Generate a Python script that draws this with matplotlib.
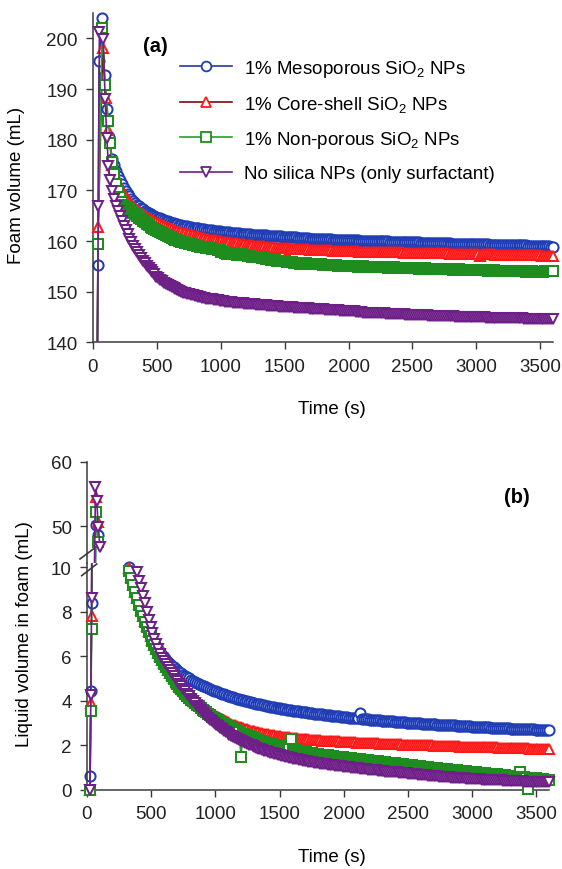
import numpy as np
import matplotlib
matplotlib.use('Agg')
import matplotlib.pyplot as plt
from matplotlib.lines import Line2D

plt.rcParams['font.family'] = ['Liberation Sans', 'DejaVu Sans']
plt.rcParams['mathtext.fontset'] = 'custom'
plt.rcParams['mathtext.rm'] = 'Liberation Sans'
plt.rcParams['mathtext.it'] = 'Liberation Sans:italic'
plt.rcParams['mathtext.default'] = 'regular'

# ---------------- data ----------------
series_labels = ['1% Mesoporous SiO$_2$ NPs', '1% Core-shell SiO$_2$ NPs',
                 '1% Non-porous SiO$_2$ NPs', 'No silica NPs (only surfactant)']

# Panel (a): foam volume (mL); early points (explicit times) + tail sampled every 15 s from 150 s
a_tail_start, a_tail_step = 150, 15

meso_a_early_t = [0, 38, 48, 70, 90, 108, 128]
meso_a_early_v = [0, 155.2, 195.5, 204.1, 192.7, 186.1, 180.5]
meso_a_tail = [
    176.2, 175.0, 173.8, 172.8, 172.0, 171.2, 170.5, 169.9, 169.3, 168.8, 168.3, 167.9, 167.6, 167.2, 166.9, 166.6, 166.3, 166.0, 165.8, 165.6,
    165.4, 165.2, 165.0, 164.8, 164.6, 164.5, 164.3, 164.1, 164.0, 163.9, 163.7, 163.6, 163.5, 163.4, 163.3, 163.2, 163.1, 163.0, 162.9, 162.9,
    162.8, 162.7, 162.6, 162.6, 162.5, 162.5, 162.4, 162.3, 162.3, 162.2, 162.2, 162.1, 162.1, 162.0, 162.0, 161.9, 161.9, 161.8, 161.8, 161.7,
    161.7, 161.7, 161.6, 161.6, 161.6, 161.5, 161.5, 161.4, 161.4, 161.4, 161.4, 161.3, 161.3, 161.2, 161.2, 161.2, 161.2, 161.1, 161.1, 161.1,
    161.1, 161.0, 161.0, 161.0, 161.0, 160.9, 160.9, 160.9, 160.9, 160.8, 160.8, 160.8, 160.8, 160.7, 160.7, 160.7, 160.7, 160.6, 160.6, 160.6,
    160.6, 160.6, 160.6, 160.5, 160.5, 160.5, 160.5, 160.5, 160.5, 160.4, 160.4, 160.4, 160.4, 160.4, 160.4, 160.3, 160.3, 160.3, 160.3, 160.3,
    160.3, 160.3, 160.3, 160.2, 160.2, 160.2, 160.2, 160.2, 160.2, 160.1, 160.1, 160.1, 160.1, 160.1, 160.1, 160.1, 160.1, 160.0, 160.0, 160.0,
    160.0, 160.0, 160.0, 160.0, 160.0, 159.9, 159.9, 159.9, 159.9, 159.9, 159.9, 159.9, 159.9, 159.8, 159.8, 159.8, 159.8, 159.8, 159.8, 159.8,
    159.8, 159.7, 159.7, 159.7, 159.7, 159.7, 159.7, 159.7, 159.7, 159.6, 159.6, 159.6, 159.6, 159.6, 159.6, 159.6, 159.6, 159.5, 159.5, 159.5,
    159.5, 159.5, 159.5, 159.5, 159.5, 159.5, 159.5, 159.4, 159.4, 159.4, 159.4, 159.4, 159.4, 159.4, 159.4, 159.4, 159.4, 159.3, 159.3, 159.3,
    159.3, 159.3, 159.3, 159.3, 159.3, 159.3, 159.3, 159.2, 159.2, 159.2, 159.2, 159.2, 159.2, 159.2, 159.2, 159.2, 159.2, 159.1, 159.1, 159.1,
    159.1, 159.1, 159.1, 159.1, 159.1, 159.0, 159.0, 159.0, 159.0, 158.9, 158.9]

core_a_early_t = [0, 40, 76, 100, 120]
core_a_early_v = [0, 162.7, 198.0, 188.2, 182.0]
core_a_tail = [
    175.0, 173.7, 172.5, 171.5, 170.7, 170.0, 169.3, 168.7, 168.2, 167.7, 167.3, 166.9, 166.6, 166.2, 165.9, 165.6, 165.3, 165.0, 164.8, 164.5,
    164.3, 164.1, 163.9, 163.7, 163.5, 163.3, 163.1, 162.9, 162.8, 162.6, 162.5, 162.3, 162.2, 162.0, 161.9, 161.8, 161.7, 161.6, 161.5, 161.4,
    161.3, 161.2, 161.1, 161.0, 160.9, 160.8, 160.7, 160.6, 160.6, 160.5, 160.4, 160.3, 160.3, 160.2, 160.2, 160.1, 160.0, 160.0, 159.9, 159.9,
    159.8, 159.8, 159.7, 159.7, 159.6, 159.6, 159.5, 159.5, 159.4, 159.4, 159.3, 159.3, 159.2, 159.2, 159.1, 159.1, 159.0, 159.0, 159.0, 159.0,
    158.9, 158.9, 158.8, 158.8, 158.8, 158.7, 158.7, 158.7, 158.7, 158.6, 158.6, 158.6, 158.6, 158.5, 158.5, 158.5, 158.5, 158.4, 158.4, 158.4,
    158.4, 158.4, 158.4, 158.3, 158.3, 158.3, 158.3, 158.3, 158.3, 158.2, 158.2, 158.2, 158.2, 158.2, 158.2, 158.1, 158.1, 158.1, 158.1, 158.1,
    158.1, 158.0, 158.0, 158.0, 158.0, 158.0, 158.0, 158.0, 158.0, 157.9, 157.9, 157.9, 157.9, 157.9, 157.9, 157.9, 157.9, 157.9, 157.9, 157.8,
    157.8, 157.8, 157.8, 157.8, 157.8, 157.8, 157.8, 157.8, 157.8, 157.8, 157.8, 157.8, 157.7, 157.7, 157.7, 157.7, 157.7, 157.7, 157.7, 157.7,
    157.7, 157.7, 157.7, 157.7, 157.6, 157.6, 157.6, 157.6, 157.6, 157.6, 157.6, 157.6, 157.6, 157.6, 157.6, 157.6, 157.5, 157.5, 157.5, 157.5,
    157.5, 157.5, 157.5, 157.5, 157.5, 157.5, 157.5, 157.5, 157.4, 157.4, 157.4, 157.4, 157.0, 157.4, 157.4, 157.4, 157.4, 157.4, 157.4, 157.4,
    157.3, 157.3, 157.3, 157.3, 157.3, 157.3, 157.3, 157.3, 157.3, 157.3, 157.3, 157.3, 157.2, 157.2, 157.2, 157.2, 157.2, 157.2, 157.2, 157.2,
    157.2, 157.2, 157.2, 157.2, 157.1, 157.1, 157.1, 157.1, 157.1, 157.1, 157.1]

non_a_early_t = [0, 40, 72, 95, 121, 134]
non_a_early_v = [0, 159.4, 202.1, 190.7, 183.7, 179.4]
non_a_tail = [
    175.5, 173.2, 171.2, 169.8, 168.6, 167.8, 167.2, 166.8, 166.5, 166.2, 166.0, 165.6, 165.3, 164.9, 164.6, 164.3, 164.0, 163.7, 163.4, 163.1,
    162.8, 162.5, 162.3, 162.1, 161.9, 161.7, 161.5, 161.3, 161.1, 161.0, 160.8, 160.6, 160.5, 160.3, 160.2, 160.0, 159.9, 159.8, 159.7, 159.6,
    159.5, 159.4, 159.3, 159.2, 159.1, 159.0, 158.9, 158.9, 158.8, 158.7, 158.6, 158.6, 158.5, 158.5, 158.4, 158.3, 158.2, 157.9, 157.8, 157.6,
    157.5, 157.6, 157.6, 157.5, 157.4, 157.3, 157.3, 157.4, 157.3, 157.2, 157.2, 157.1, 157.0, 156.9, 156.8, 156.9, 156.9, 156.8, 156.7, 156.6,
    156.5, 156.5, 156.4, 156.3, 156.2, 156.2, 156.1, 156.1, 156.0, 156.0, 156.0, 155.9, 155.8, 155.8, 155.8, 155.7, 155.6, 155.6, 155.5, 155.5,
    155.6, 155.6, 155.5, 155.5, 155.4, 155.5, 155.5, 155.5, 155.4, 155.4, 155.3, 155.3, 155.2, 155.3, 155.3, 155.2, 155.2, 155.2, 155.1, 155.1,
    155.1, 155.1, 155.0, 155.0, 155.1, 155.1, 155.0, 155.0, 154.9, 154.9, 155.0, 155.0, 154.9, 154.9, 154.9, 154.9, 154.8, 154.8, 154.9, 154.9,
    154.8, 154.8, 154.8, 154.8, 154.7, 154.7, 154.8, 154.8, 154.7, 154.7, 154.7, 154.7, 154.6, 154.6, 154.7, 154.7, 154.6, 154.6, 154.6, 154.6,
    154.5, 154.5, 154.6, 154.6, 154.5, 154.5, 154.5, 154.5, 154.4, 154.4, 154.5, 154.5, 154.4, 154.4, 154.4, 154.4, 154.4, 154.4, 154.3, 154.3,
    154.4, 154.4, 154.3, 154.3, 154.3, 154.3, 154.2, 154.2, 154.3, 154.3, 154.2, 154.2, 154.2, 154.2, 154.2, 154.2, 154.1, 154.1, 154.2, 154.2,
    154.1, 154.1, 154.1, 154.1, 154.1, 154.1, 154.0, 154.0, 154.1, 154.1, 154.0, 154.0, 154.0, 154.0, 154.0, 154.0, 153.9, 153.9, 154.0, 154.0,
    153.9, 153.9, 153.8, 153.8, 153.9, 153.9, 154.0, 154.0, 154.1, 154.1, 154.1]

sur_a_early_t = [0, 42, 50, 80, 95, 108, 121, 135]
sur_a_early_v = [0, 166.9, 201.2, 199.8, 188.0, 180.4, 174.8, 172.0]
sur_a_tail = [
    169.8, 168.3, 167.0, 166.0, 165.0, 164.0, 163.0, 162.1, 161.3, 160.5, 159.8, 159.1, 158.4, 157.8, 157.2, 156.6, 156.1, 155.6, 155.1, 154.6,
    154.2, 153.8, 153.4, 153.0, 152.7, 152.4, 152.1, 151.8, 151.6, 151.3, 151.1, 150.9, 150.7, 150.5, 150.3, 150.1, 150.0, 149.8, 149.7, 149.6,
    149.5, 149.4, 149.3, 149.2, 149.1, 149.0, 148.9, 148.8, 148.7, 148.6, 148.6, 148.5, 148.5, 148.4, 148.3, 148.3, 148.2, 148.1, 148.1, 148.0,
    148.0, 147.9, 147.9, 147.8, 147.8, 147.7, 147.7, 147.7, 147.7, 147.6, 147.6, 147.5, 147.5, 147.5, 147.5, 147.4, 147.4, 147.3, 147.3, 147.3,
    147.3, 147.2, 147.2, 147.2, 147.2, 147.1, 147.1, 147.0, 147.0, 147.0, 147.0, 146.9, 146.9, 146.9, 146.9, 146.8, 146.8, 146.8, 146.8, 146.7,
    146.7, 146.7, 146.7, 146.6, 146.6, 146.6, 146.6, 146.5, 146.5, 146.5, 146.5, 146.4, 146.4, 146.4, 146.4, 146.3, 146.3, 146.3, 146.3, 146.2,
    146.2, 146.2, 146.2, 146.1, 146.1, 146.1, 146.1, 146.0, 146.0, 146.0, 146.0, 145.9, 145.9, 145.9, 145.9, 145.9, 145.9, 145.8, 145.8, 145.8,
    145.8, 145.8, 145.8, 145.7, 145.7, 145.7, 145.7, 145.6, 145.6, 145.6, 145.6, 145.6, 145.6, 145.5, 145.5, 145.5, 145.5, 145.5, 145.5, 145.4,
    145.4, 145.4, 145.4, 145.4, 145.4, 145.3, 145.3, 145.3, 145.3, 145.3, 145.3, 145.2, 145.2, 145.2, 145.2, 145.2, 145.2, 145.2, 145.2, 145.1,
    145.1, 145.1, 145.1, 145.1, 145.1, 145.1, 145.1, 145.0, 145.0, 145.0, 145.0, 145.0, 145.0, 145.0, 145.0, 144.9, 144.9, 144.9, 144.9, 144.9,
    144.9, 144.9, 144.9, 144.9, 144.9, 144.9, 144.9, 144.8, 144.8, 144.8, 144.8, 144.8, 144.8, 144.8, 144.8, 144.7, 144.7, 144.7, 144.7, 144.7,
    144.7, 144.7, 144.7, 144.7, 144.7, 144.6, 144.6, 144.6, 144.6, 144.6, 144.6]

# Panel (b): liquid volume in foam (mL); early points + decay sampled every 15 s
b_step = 15
meso_b_early_t = [23, 30, 36, 70, 85]
meso_b_early_v = [0.64, 4.43, 8.4, 50.2, 48.6]
meso_b_start = 330
meso_b_tail = [
    10.0, 9.6, 9.25, 8.95, 8.65, 8.37, 8.1, 7.85, 7.6, 7.37, 7.15, 6.96, 6.78, 6.61, 6.45, 6.31, 6.18, 6.06, 5.95, 5.85,
    5.76, 5.67, 5.58, 5.5, 5.43, 5.36, 5.29, 5.23, 5.17, 5.11, 5.06, 5.01, 4.96, 4.91, 4.86, 4.81, 4.77, 4.73, 4.69, 4.65,
    4.61, 4.57, 4.53, 4.49, 4.46, 4.43, 4.4, 4.36, 4.33, 4.3, 4.27, 4.24, 4.21, 4.18, 4.16, 4.13, 4.1, 4.08, 4.05, 4.03,
    4.0, 3.98, 3.96, 3.94, 3.92, 3.9, 3.88, 3.86, 3.84, 3.82, 3.80, 3.78, 3.76, 3.74, 3.73, 3.71, 3.70, 3.68, 3.67, 3.65,
    3.64, 3.62, 3.61, 3.59, 3.58, 3.56, 3.55, 3.54, 3.53, 3.51, 3.50, 3.49, 3.48, 3.47, 3.46, 3.44, 3.43, 3.42, 3.41, 3.40,
    3.39, 3.38, 3.37, 3.36, 3.35, 3.34, 3.33, 3.32, 3.31, 3.30, 3.29, 3.28, 3.27, 3.26, 3.25, 3.24, 3.23, 3.22, 3.22, 3.21,
    3.45, 3.20, 3.18, 3.18, 3.17, 3.16, 3.15, 3.14, 3.14, 3.13, 3.12, 3.11, 3.11, 3.10, 3.10, 3.09, 3.08, 3.08, 3.07, 3.06,
    3.06, 3.05, 3.04, 3.04, 3.03, 3.02, 3.02, 3.01, 3.01, 3.00, 3.00, 2.99, 2.98, 2.98, 2.97, 2.97, 2.96, 2.96, 2.95, 2.95,
    2.94, 2.94, 2.93, 2.93, 2.92, 2.92, 2.91, 2.91, 2.90, 2.90, 2.89, 2.89, 2.88, 2.88, 2.87, 2.87, 2.86, 2.86, 2.85, 2.85,
    2.84, 2.84, 2.83, 2.83, 2.82, 2.82, 2.81, 2.81, 2.80, 2.80, 2.79, 2.79, 2.79, 2.78, 2.78, 2.78, 2.77, 2.77, 2.76, 2.76,
    2.75, 2.75, 2.75, 2.74, 2.74, 2.74, 2.73, 2.73, 2.72, 2.72, 2.72, 2.71, 2.71, 2.71, 2.70, 2.70, 2.70, 2.70, 2.69]

core_b_early_t = [23, 30, 36, 68, 82]
core_b_early_v = [0.0, 3.9, 7.8, 54.5, 50.6]
core_b_start = 330
core_b_tail = [
    9.95, 9.57, 9.22, 8.91, 8.62, 8.34, 8.07, 7.81, 7.57, 7.34, 7.12, 6.91, 6.72, 6.53, 6.34, 6.17, 6.0, 5.84, 5.69, 5.54,
    5.4, 5.27, 5.14, 5.02, 4.9, 4.79, 4.68, 4.58, 4.48, 4.39, 4.3, 4.21, 4.13, 4.05, 3.97, 3.9, 3.83, 3.76, 3.7, 3.64,
    3.58, 3.52, 3.46, 3.41, 3.36, 3.31, 3.26, 3.21, 3.17, 3.13, 3.09, 3.05, 3.01, 2.97, 2.94, 2.9, 2.87, 2.84, 2.81, 2.78,
    2.75, 2.72, 2.70, 2.67, 2.65, 2.63, 2.61, 2.59, 2.57, 2.55, 2.53, 2.51, 2.50, 2.48, 2.47, 2.45, 2.44, 2.42, 2.41, 2.40,
    2.39, 2.38, 2.37, 2.36, 2.35, 2.34, 2.33, 2.32, 2.31, 2.30, 2.29, 2.29, 2.28, 2.27, 2.26, 2.26, 2.25, 2.24, 2.23, 2.23,
    2.22, 2.22, 2.21, 2.21, 2.20, 2.20, 2.19, 2.19, 2.18, 2.18, 2.17, 2.17, 2.16, 2.16, 2.15, 2.15, 2.14, 2.14, 2.13, 2.13,
    2.12, 2.12, 2.11, 2.11, 2.10, 2.10, 2.10, 2.10, 2.09, 2.09, 2.08, 2.08, 2.07, 2.07, 2.07, 2.07, 2.06, 2.06, 2.05, 2.05,
    2.05, 2.05, 2.04, 2.04, 2.03, 2.03, 2.03, 2.03, 2.02, 2.02, 2.02, 2.02, 2.01, 2.01, 2.00, 2.00, 2.00, 2.00, 1.99, 1.99,
    1.99, 1.99, 1.98, 1.98, 1.97, 1.97, 1.97, 1.97, 1.96, 1.96, 1.96, 1.96, 1.95, 1.95, 1.95, 1.95, 1.94, 1.94, 1.94, 1.94,
    1.93, 1.93, 1.93, 1.93, 1.92, 1.92, 1.92, 1.92, 1.91, 1.91, 1.91, 1.91, 1.90, 1.90, 1.90, 1.90, 1.89, 1.89, 1.89, 1.89,
    1.88, 1.88, 1.88, 1.88, 1.87, 1.87, 1.87, 1.87, 1.86, 1.86, 1.86, 1.86, 1.85, 1.85, 1.85, 1.85, 1.84, 1.84, 1.84]

non_b_early_t = [23, 30, 36, 72, 88]
non_b_early_v = [0.0, 3.55, 7.24, 52.2, 47.5]
non_b_start = 330
non_b_tail = [
    9.85, 9.52, 9.2, 8.9, 8.6, 8.32, 8.05, 7.8, 7.55, 7.32, 7.1, 6.9, 6.7, 6.51, 6.32, 6.15, 5.98, 5.82, 5.66, 5.51,
    5.37, 5.23, 5.1, 4.98, 4.86, 4.75, 4.64, 4.53, 4.43, 4.33, 4.24, 4.15, 4.06, 3.98, 3.9, 3.82, 3.75, 3.68, 3.61, 3.54,
    3.48, 3.41, 3.35, 3.29, 3.23, 3.17, 3.12, 3.06, 3.01, 2.96, 2.91, 2.86, 2.82, 2.77, 2.73, 2.68, 2.64, 2.60, 1.5, 2.52,
    2.48, 2.44, 2.41, 2.37, 2.34, 2.31, 2.28, 2.25, 2.22, 2.19, 2.16, 2.13, 2.1, 2.08, 2.05, 2.03, 2.0, 1.98, 1.96, 1.93,
    1.91, 1.89, 1.87, 1.85, 2.3, 1.81, 1.79, 1.77, 1.76, 1.74, 1.73, 1.71, 1.69, 1.68, 1.66, 1.65, 1.63, 1.62, 1.61, 1.59,
    1.58, 1.57, 1.56, 1.55, 1.53, 1.52, 1.51, 1.50, 1.49, 1.48, 1.47, 1.46, 1.45, 1.44, 1.43, 1.42, 1.41, 1.40, 1.39, 1.38,
    1.37, 1.36, 1.35, 1.34, 1.33, 1.32, 1.31, 1.30, 1.29, 1.28, 1.27, 1.26, 1.25, 1.24, 1.23, 1.22, 1.21, 1.20, 1.19, 1.18,
    1.17, 1.16, 1.15, 1.14, 1.13, 1.12, 1.11, 1.10, 1.09, 1.08, 1.07, 1.06, 1.05, 1.04, 1.03, 1.02, 1.01, 1.00, 0.99, 0.98,
    0.97, 0.96, 0.95, 0.94, 0.93, 0.93, 0.92, 0.91, 0.90, 0.89, 0.88, 0.87, 0.86, 0.86, 0.85, 0.84, 0.83, 0.82, 0.81, 0.80,
    0.79, 0.78, 0.77, 0.77, 0.76, 0.75, 0.74, 0.73, 0.72, 0.71, 0.70, 0.70, 0.69, 0.68, 0.67, 0.66, 0.65, 0.64, 0.63, 0.63,
    0.62, 0.61, 0.60, 0.8, 0.58, 0.57, 0.56, 0.05, 0.55, 0.54, 0.53, 0.52, 0.51, 0.50, 0.49, 0.48, 0.47, 0.46, 0.45]

sur_b_early_t = [23, 30, 36, 66, 76, 88, 102]
sur_b_early_v = [0.0, 4.25, 8.6, 56.0, 53.9, 49.8, 46.7]
sur_b_start = 390
sur_b_tail = [
    9.78, 9.4, 9.05, 8.72, 8.38, 8.0, 7.65, 7.33, 7.05, 6.79, 6.55, 6.33, 6.12, 5.94, 5.78, 5.64, 5.5, 5.37, 5.24, 5.12,
    5.0, 4.88, 4.76, 4.65, 4.54, 4.43, 4.32, 4.21, 4.1, 4.0, 3.9, 3.79, 3.69, 3.59, 3.5, 3.41, 3.32, 3.24, 3.16, 3.08,
    3.0, 2.93, 2.86, 2.79, 2.73, 2.67, 2.61, 2.55, 2.49, 2.44, 2.39, 2.34, 2.29, 2.24, 2.2, 2.16, 2.12, 2.08, 2.04, 2.0,
    1.97, 1.93, 1.9, 1.86, 1.83, 1.79, 1.76, 1.73, 1.7, 1.67, 1.65, 1.62, 1.6, 1.58, 1.56, 1.53, 1.51, 1.49, 1.47, 1.45,
    1.43, 1.41, 1.39, 1.37, 1.35, 1.33, 1.32, 1.30, 1.29, 1.27, 1.26, 1.24, 1.23, 1.21, 1.2, 1.18, 1.17, 1.16, 1.15, 1.13,
    1.12, 1.11, 1.1, 1.09, 1.08, 1.07, 1.06, 1.05, 1.04, 1.03, 1.02, 1.01, 1.0, 0.99, 0.98, 0.97, 0.96, 0.95, 0.94, 0.93,
    0.92, 0.91, 0.9, 0.89, 0.88, 0.87, 0.86, 0.85, 0.84, 0.83, 0.83, 0.82, 0.81, 0.80, 0.80, 0.79, 0.78, 0.77, 0.77, 0.76,
    0.75, 0.74, 0.73, 0.72, 0.71, 0.70, 0.69, 0.68, 0.67, 0.67, 0.66, 0.65, 0.64, 0.63, 0.63, 0.62, 0.61, 0.60, 0.60, 0.59,
    0.58, 0.57, 0.57, 0.56, 0.56, 0.55, 0.54, 0.54, 0.53, 0.53, 0.52, 0.51, 0.51, 0.50, 0.50, 0.49, 0.49, 0.48, 0.48, 0.47,
    0.47, 0.46, 0.46, 0.45, 0.45, 0.44, 0.44, 0.44, 0.43, 0.43, 0.42, 0.42, 0.42, 0.41, 0.41, 0.40, 0.40, 0.40, 0.39, 0.39,
    0.39, 0.38, 0.38, 0.38, 0.37, 0.37, 0.37, 0.36, 0.36, 0.36, 0.35, 0.35, 0.35, 0.35, 0.34]

x_ticks = [0, 500, 1000, 1500, 2000, 2500, 3000, 3500]
a_yticks = [140, 150, 160, 170, 180, 190, 200]
b_low_yticks = [0, 2, 4, 6, 8, 10]
b_up_yticks = [50, 60]

# ---------------- style ----------------
FS = 13.5
W, H = 562, 870
markers = ['o', '^', 's', 'v']
mcolors = ['#1f3db5', '#ff1a1a', '#1f8c1f', '#6f1f88']
lcolors = ['#24399e', '#7a0a0a', '#2e9e2e', '#6f1f88']
MS, MEW = 7.3, 1.45
SPC = '#3a3a3a'

fig = plt.figure(figsize=(W / 100, H / 100), dpi=100)


def fax(l, t, r, b):
    return fig.add_axes([l / W, 1 - b / H, (r - l) / W, (b - t) / H])


def style(ax):
    for s in ['top', 'right']:
        ax.spines[s].set_visible(False)
    for s in ['left', 'bottom']:
        ax.spines[s].set_color(SPC)
        ax.spines[s].set_linewidth(1.1)
    ax.tick_params(direction='out', length=5, width=1, colors=SPC, labelcolor='#222222',
                   labelsize=FS, pad=6)
    ax.patch.set_alpha(0)


# ---- panel (a) ----
axa = fax(93, 14, 553, 343.4)
style(axa)
axa.set_xlim(0, 3600)
axa.set_ylim(140, 205)
axa.set_xticks(x_ticks)
axa.set_yticks(a_yticks)

a_sets = [(meso_a_early_t, meso_a_early_v, meso_a_tail),
          (core_a_early_t, core_a_early_v, core_a_tail),
          (non_a_early_t, non_a_early_v, non_a_tail),
          (sur_a_early_t, sur_a_early_v, sur_a_tail)]
for i, (et, ev, tail) in enumerate(a_sets):
    tt = a_tail_start + a_tail_step * np.arange(len(tail))
    t = np.concatenate([np.array(et, float), tt])
    v = np.concatenate([np.array(ev, float), np.array(tail, float)])
    axa.plot(t, v, color=lcolors[i], lw=1.2, zorder=2 + i)
    m = v >= 140
    axa.plot(t[m], v[m], ls='none', marker=markers[i], ms=MS, mew=MEW, mec=mcolors[i],
             mfc='white', clip_on=False, zorder=2 + i)

handles = [Line2D([], [], color=lcolors[i], lw=1.2, marker=markers[i], ms=7, mew=1.3,
                  mec=mcolors[i], mfc='white') for i in range(4)]
fig.legend(handles, series_labels, loc='upper left', bbox_to_anchor=(180 / W, 1 - 59 / H),
           frameon=False, fontsize=FS, handlelength=2.75, handletextpad=0.65,
           labelspacing=0.8, borderpad=0, borderaxespad=0)

fig.text(155 / W, 1 - 47 / H, '(a)', fontsize=14.5, fontweight='bold', ha='center', va='center')
fig.text(17 / W, 1 - 185 / H, 'Foam volume (mL)', fontsize=FS, rotation=90, ha='center', va='center')
fig.text(332 / W, 1 - 410 / H, 'Time (s)', fontsize=FS, ha='center', va='center')

# ---- panel (b) ----
split = 564
axu = fax(87, 462.7, 549, split)
axl = fax(87, split, 549, 791)
style(axu)
style(axl)
axu.spines['bottom'].set_visible(False)
axu.tick_params(axis='x', which='both', bottom=False, labelbottom=False)
axu.set_xlim(0, 3600)
axl.set_xlim(0, 3600)
axu.set_ylim(44.25, 60)
axl.set_ylim(0, 10.19)
axu.set_yticks(b_up_yticks)
axl.set_yticks(b_low_yticks)
axl.set_xticks(x_ticks)

b_sets = [(meso_b_early_t, meso_b_early_v, meso_b_start, meso_b_tail),
          (core_b_early_t, core_b_early_v, core_b_start, core_b_tail),
          (non_b_early_t, non_b_early_v, non_b_start, non_b_tail),
          (sur_b_early_t, sur_b_early_v, sur_b_start, sur_b_tail)]
for i, (et, ev, st, tail) in enumerate(b_sets):
    et = np.array(et, float)
    ev = np.array(ev, float)
    tt = st + b_step * np.arange(len(tail))
    tv = np.array(tail, float)
    for ax, lo, hi in [(axu, 44.25, 60), (axl, 0, 10.19)]:
        ax.plot(et, ev, color=lcolors[i], lw=1.2, zorder=2 + i)
        m = (ev >= lo) & (ev <= hi)
        ax.plot(et[m], ev[m], ls='none', marker=markers[i], ms=MS, mew=MEW, mec=mcolors[i],
                mfc='white', clip_on=False, zorder=2 + i)
    axl.plot(tt, tv, color=lcolors[i], lw=1.2, marker=markers[i], ms=MS, mew=MEW,
             mec=mcolors[i], mfc='white', clip_on=False, zorder=2 + i)

# axis break marks
for (x0, y0, x1, y1) in [(80, 560, 93.3, 550), (81.7, 576.7, 96.7, 565)]:
    fig.add_artist(Line2D([x0 / W, x1 / W], [1 - y0 / H, 1 - y1 / H], transform=fig.transFigure,
                          color=SPC, lw=1.2))

fig.text(517 / W, 1 - 498 / H, '(b)', fontsize=14.5, fontweight='bold', ha='center', va='center')
fig.text(25 / W, 1 - 634 / H, 'Liquid volume in foam (mL)', fontsize=FS, rotation=90,
         ha='center', va='center')
fig.text(332 / W, 1 - 858 / H, 'Time (s)', fontsize=FS, ha='center', va='center')

fig.savefig('out.png', dpi=100, facecolor='white')
